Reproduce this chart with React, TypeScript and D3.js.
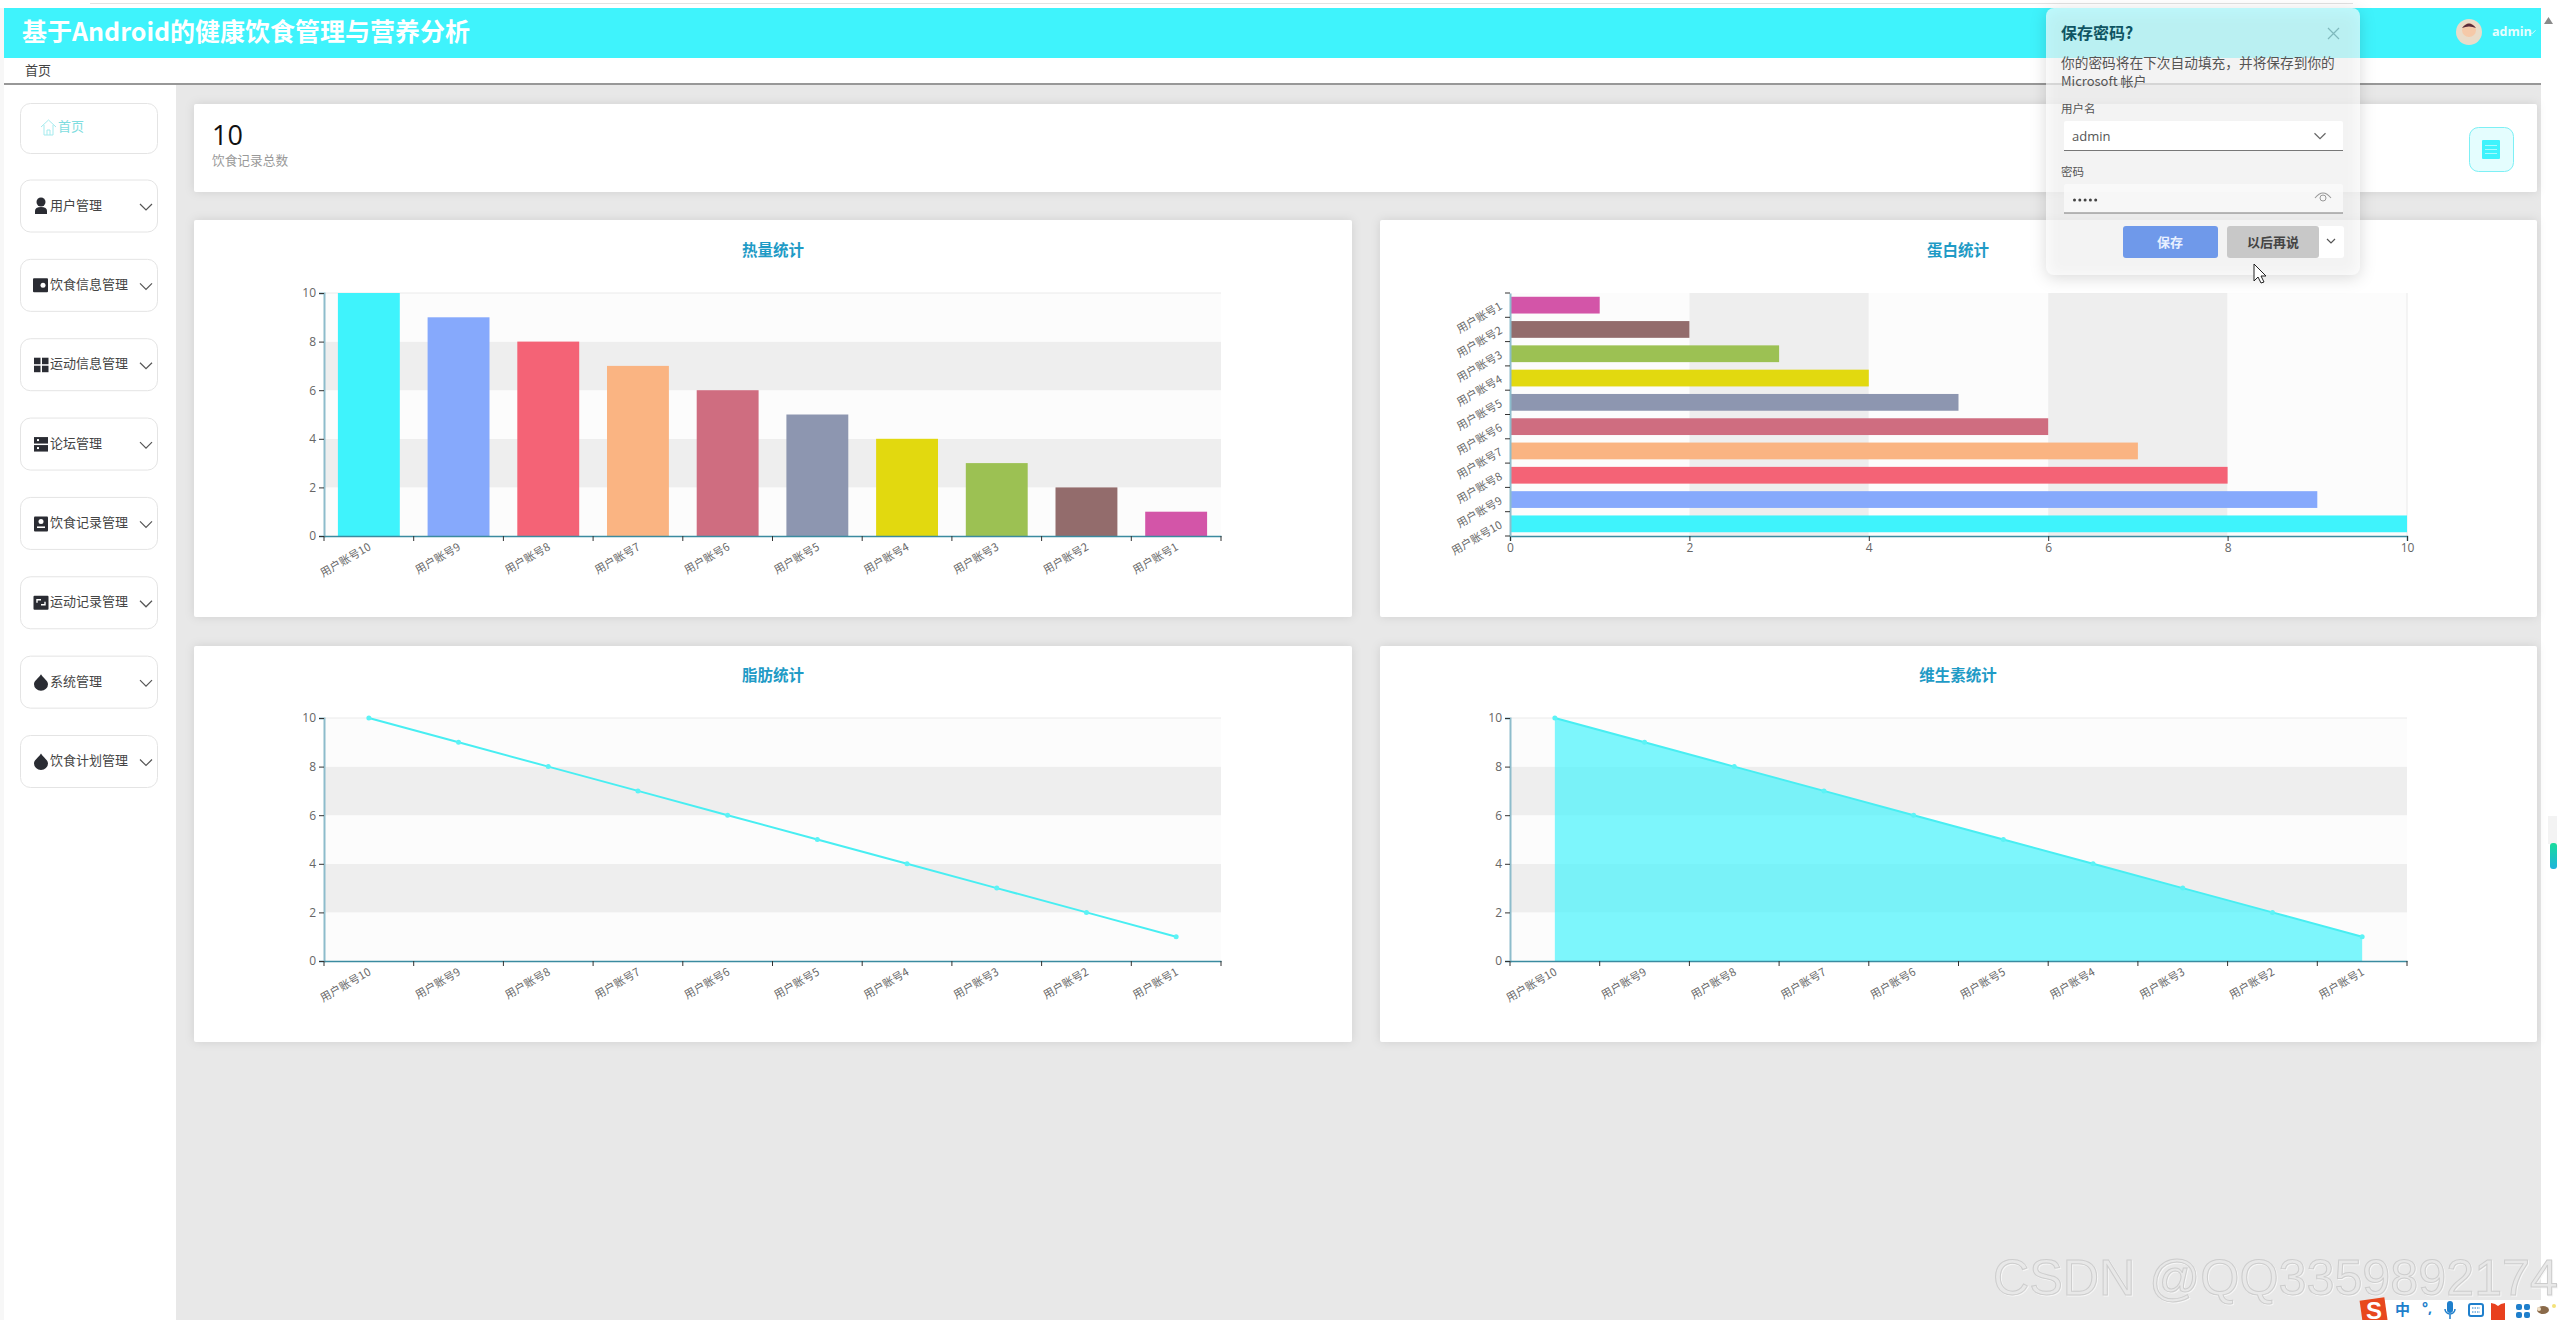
import React, { useRef, useEffect } from 'react';
import * as d3 from 'd3';

const categories = ['用户账号10', '用户账号9', '用户账号8', '用户账号7', '用户账号6', '用户账号5', '用户账号4', '用户账号3', '用户账号2', '用户账号1'];
const proteinCategories = ['用户账号1', '用户账号2', '用户账号3', '用户账号4', '用户账号5', '用户账号6', '用户账号7', '用户账号8', '用户账号9', '用户账号10'];
const heatValues = [10, 9, 8, 7, 6, 5, 4, 3, 2, 1];
const proteinValues = [1, 2, 3, 4, 5, 6, 7, 8, 9, 10];
const fatValues = [10, 9, 8, 7, 6, 5, 4, 3, 2, 1];
const vitaminValues = [10, 9, 8, 7, 6, 5, 4, 3, 2, 1];
const valueTicks = [0, 2, 4, 6, 8, 10];
const palette = ['#3ff3fc', '#86a9fc', '#f46376', '#fab482', '#cf6d80', '#8d96b0', '#e2d90f', '#9cc153', '#936c6c', '#d355a8'];
const menuItems = ['用户管理', '饮食信息管理', '运动信息管理', '论坛管理', '饮食记录管理', '运动记录管理', '系统管理', '饮食计划管理'];
const menuIcons = ['user', 'card', 'grid', 'server', 'disk', 'expand', 'drop', 'drop'];

const CYAN = '#3ff3fc';
const FONT = '"Noto Sans CJK SC", "Noto Sans", sans-serif';
const NUM_FONT = '"Open Sans", "Noto Sans CJK SC", sans-serif';

type Sel = d3.Selection<any, any, any, any>;

function label(g: Sel, x: number, y: number, text: string, size: number, color: string, opts: any = {}) {
  return g.append('text')
    .attr('x', x)
    .attr('y', y)
    .attr('dy', '0.35em')
    .attr('font-family', opts.family || FONT)
    .attr('font-size', size)
    .attr('font-weight', opts.weight || 'normal')
    .attr('text-anchor', opts.anchor || 'start')
    .attr('fill', color)
    .text(text);
}

function chevron(g: Sel, cx: number, cy: number, w: number, color: string, sw = 1.2) {
  g.append('path')
    .attr('d', `M${cx - w / 2},${cy - w / 4}L${cx},${cy + w / 4}L${cx + w / 2},${cy - w / 4}`)
    .attr('fill', 'none')
    .attr('stroke', color)
    .attr('stroke-width', sw);
}

function card(g: Sel, x: number, y: number, w: number, h: number) {
  g.append('rect')
    .attr('x', x).attr('y', y).attr('width', w).attr('height', h)
    .attr('rx', 2)
    .attr('fill', '#fff')
    .style('filter', 'drop-shadow(0 0 5px rgba(0,0,0,0.1))');
}

function menuIcon(g: Sel, kind: string, x: number, cy: number) {
  const c = '#2a2c33';
  if (kind === 'user') {
    g.append('circle').attr('cx', x + 7).attr('cy', cy - 4).attr('r', 4.5).attr('fill', c);
    g.append('path').attr('d', `M${x + 1},${cy + 8}v-3q0,-4 6,-4q6,0 6,4v3z`).attr('fill', c);
  } else if (kind === 'card') {
    g.append('rect').attr('x', x - 1).attr('y', cy - 7).attr('width', 15).attr('height', 14).attr('rx', 1).attr('fill', c);
    g.append('circle').attr('cx', x + 9).attr('cy', cy).attr('r', 2.5).attr('fill', '#fff');
  } else if (kind === 'grid') {
    [0, 8].forEach(dx => [0, 8].forEach(dy => {
      g.append('rect').attr('x', x + dx).attr('y', cy - 7 + dy).attr('width', 6.5).attr('height', 6.5).attr('fill', c);
    }));
  } else if (kind === 'server') {
    [0, 8].forEach(dy => {
      g.append('rect').attr('x', x).attr('y', cy - 7 + dy).attr('width', 14).attr('height', 6.5).attr('fill', c);
      g.append('rect').attr('x', x + 3).attr('y', cy - 5 + dy).attr('width', 2).attr('height', 2).attr('fill', '#fff');
    });
  } else if (kind === 'disk') {
    g.append('rect').attr('x', x).attr('y', cy - 7).attr('width', 14).attr('height', 15).attr('rx', 1).attr('fill', c);
    g.append('circle').attr('cx', x + 7).attr('cy', cy - 2).attr('r', 2.5).attr('fill', '#fff');
    g.append('rect').attr('x', x + 3).attr('y', cy + 3).attr('width', 8).attr('height', 1.6).attr('fill', '#fff');
  } else if (kind === 'expand') {
    g.append('rect').attr('x', x - 0.5).attr('y', cy - 7).attr('width', 15).attr('height', 14).attr('rx', 1).attr('fill', c);
    g.append('path').attr('d', `M${x + 3},${cy}v-3h4M${x + 11},${cy - 1}v3h-4`).attr('fill', 'none').attr('stroke', '#fff').attr('stroke-width', 1.4);
  } else {
    g.append('path').attr('d', `M${x + 7},${cy - 8}C${x + 10},${cy - 3} ${x + 14},${cy - 2} ${x + 14},${cy + 2}A7,6.5 0 0 1 ${x},${cy + 2}C${x},${cy - 2} ${x + 4},${cy - 3} ${x + 7},${cy - 8}Z`).attr('fill', c);
  }
}

function styleAxis(axis: Sel, color: string, width: number) {
  axis.select('.domain').attr('stroke', color).attr('stroke-width', width);
  axis.selectAll('.tick line').attr('stroke', '#333');
}

// value axis on the left with the split bands of the line and bar charts
function valueFrame(g: Sel, title: string, cx: number, titleY: number, left: number, right: number, top: number, bottom: number) {
  label(g, cx, titleY, title, 15.5, '#1f9bc6', { anchor: 'middle', weight: 'bold' });
  const y = d3.scaleLinear().domain([0, 10]).range([bottom, top]);
  const pairs = d3.pairs(valueTicks);
  g.selectAll(null).data(pairs).join('rect')
    .attr('x', left).attr('width', right - left)
    .attr('y', d => y(d[1])).attr('height', d => y(d[0]) - y(d[1]))
    .attr('fill', (_, i) => (i % 2 === 0 ? '#fcfcfc' : '#eeeeee'));
  g.append('line').attr('x1', left).attr('x2', right).attr('y1', top).attr('y2', top).attr('stroke', '#eaeaea');
  return y;
}

function drawAxes(g: Sel, band: d3.ScaleBand<string>, y: d3.ScaleLinear<number, number>, bottom: number, left: number) {
  const axisY = g.append('g').attr('transform', `translate(${left},0)`)
    .call(d3.axisLeft(y).tickValues(valueTicks).tickSize(5).tickPadding(3) as any);
  styleAxis(axisY, '#8dbccb', 2);
  axisY.selectAll('text').attr('font-family', NUM_FONT).attr('font-size', 12).attr('fill', '#666');

  const axisX = g.append('g').attr('transform', `translate(0,${bottom})`)
    .call(d3.axisBottom(band).tickSize(0).tickPadding(0) as any);
  axisX.select('.domain').attr('stroke', '#3b8ba0').attr('stroke-width', 1.5);
  axisX.selectAll('.tick text')
    .attr('font-family', FONT).attr('font-size', 11).attr('fill', '#666')
    .attr('text-anchor', 'end')
    .attr('transform', 'translate(1,10) rotate(-30)')
    .attr('dy', '0.7em').attr('y', -4);
  const edges = d3.range(band.domain().length + 1).map(i => band.range()[0] + i * band.step());
  axisX.selectAll('.edge').data(edges).join('line')
    .attr('x1', d => d).attr('x2', d => d).attr('y1', 0).attr('y2', 5).attr('stroke', '#333');
}

function drawBarChart(g: Sel) {
  const left = 324, right = 1221, top = 293, bottom = 536;
  const y = valueFrame(g, '热量统计', 773, 251, left, right, top, bottom);
  const x = d3.scaleBand<string>().domain(categories).range([left, right]).padding(0.155);
  x.paddingInner(0.31).paddingOuter(0.155);
  g.selectAll(null).data(heatValues).join('rect')
    .attr('x', (_, i) => x(categories[i])!)
    .attr('width', x.bandwidth())
    .attr('y', d => y(d))
    .attr('height', d => bottom - y(d))
    .attr('fill', (_, i) => palette[i]);
  const axisBand = d3.scaleBand<string>().domain(categories).range([left, right]);
  drawAxes(g, axisBand, y, bottom, left);
}

function drawHorizontalChart(g: Sel) {
  const left = 1510, right = 2407, top = 293, bottom = 536;
  label(g, 1958, 251, '蛋白统计', 15.5, '#1f9bc6', { anchor: 'middle', weight: 'bold' });
  const x = d3.scaleLinear().domain([0, 10]).range([left, right]);
  const y = d3.scaleBand<string>().domain(proteinCategories).range([top, bottom]);
  g.selectAll(null).data(d3.pairs(valueTicks)).join('rect')
    .attr('x', d => x(d[0])).attr('width', d => x(d[1]) - x(d[0]))
    .attr('y', top).attr('height', bottom - top)
    .attr('fill', (_, i) => (i % 2 === 0 ? '#fcfcfc' : '#eeeeee'));
  g.append('line').attr('x1', right).attr('x2', right).attr('y1', top).attr('y2', bottom).attr('stroke', '#eaeaea');

  const inner = y.bandwidth() * 0.69;
  g.selectAll(null).data(proteinValues).join('rect')
    .attr('x', left)
    .attr('y', (_, i) => y(proteinCategories[i])! + (y.bandwidth() - inner) / 2)
    .attr('width', d => x(d) - left)
    .attr('height', inner)
    .attr('fill', (_, i) => palette[9 - i]);

  const axisX = g.append('g').attr('transform', `translate(0,${bottom})`)
    .call(d3.axisBottom(x).tickValues(valueTicks).tickSize(5).tickPadding(2) as any);
  styleAxis(axisX, '#3b8ba0', 1.5);
  axisX.selectAll('text').attr('font-family', NUM_FONT).attr('font-size', 12).attr('fill', '#666');

  const axisY = g.append('g').attr('transform', `translate(${left},0)`)
    .call(d3.axisLeft(y).tickSize(0).tickPadding(0) as any);
  axisY.select('.domain').attr('stroke', '#8dbccb').attr('stroke-width', 2);
  axisY.selectAll('.tick text')
    .attr('font-family', FONT).attr('font-size', 11).attr('fill', '#666')
    .attr('text-anchor', 'end')
    .attr('x', 0).attr('dy', '0.35em')
    .attr('transform', 'translate(-9,0) rotate(-30)');
  const edges = d3.range(proteinCategories.length + 1).map(i => top + i * y.step());
  axisY.selectAll('.edge').data(edges).join('line')
    .attr('x1', -5).attr('x2', 0).attr('y1', d => d).attr('y2', d => d).attr('stroke', '#333');
}

function drawLineChart(g: Sel) {
  const left = 324, right = 1221, top = 718, bottom = 961;
  const y = valueFrame(g, '脂肪统计', 773, 676, left, right, top, bottom);
  const x = d3.scaleBand<string>().domain(categories).range([left, right]);
  const cx = (i: number) => x(categories[i])! + x.bandwidth() / 2;
  const line = d3.line<number>().x((_, i) => cx(i)).y(d => y(d));
  drawAxes(g, x, y, bottom, left);
  g.append('path').attr('d', line(fatValues)!).attr('fill', 'none').attr('stroke', '#48eef2').attr('stroke-width', 2);
  g.selectAll(null).data(fatValues).join('circle')
    .attr('cx', (_, i) => cx(i)).attr('cy', d => y(d)).attr('r', 2.5).attr('fill', '#5cf3f6');
}

function drawAreaChart(g: Sel) {
  const left = 1510, right = 2407, top = 718, bottom = 961;
  const y = valueFrame(g, '维生素统计', 1958, 676, left, right, top, bottom);
  const x = d3.scaleBand<string>().domain(categories).range([left, right]);
  const cx = (i: number) => x(categories[i])! + x.bandwidth() / 2;
  const area = d3.area<number>().x((_, i) => cx(i)).y0(bottom).y1(d => y(d));
  const line = d3.line<number>().x((_, i) => cx(i)).y(d => y(d));
  g.append('path').attr('d', area(vitaminValues)!).attr('fill', CYAN).attr('fill-opacity', 0.67);
  g.append('path').attr('d', line(vitaminValues)!).attr('fill', 'none').attr('stroke', '#48eef2').attr('stroke-width', 2);
  g.selectAll(null).data(vitaminValues).join('circle')
    .attr('cx', (_, i) => cx(i)).attr('cy', d => y(d)).attr('r', 2.5).attr('fill', '#5cf3f6');
  drawAxes(g, x, y, bottom, left);
}

function drawPage(g: Sel) {
  g.append('rect').attr('width', 2560).attr('height', 1320).attr('fill', '#fff');
  g.append('line').attr('x1', 90).attr('x2', 2353).attr('y1', 3.5).attr('y2', 3.5).attr('stroke', '#e2e2e2');
  g.append('rect').attr('x', 0).attr('y', 8).attr('width', 4).attr('height', 1312).attr('fill', '#f7f7f7');
  g.append('rect').attr('x', 176).attr('y', 85).attr('width', 2365).attr('height', 1235).attr('fill', '#e8e8e8');

  // header
  g.append('rect').attr('x', 4).attr('y', 8).attr('width', 2537).attr('height', 50).attr('fill', CYAN);
  label(g, 22, 32, '基于Android的健康饮食管理与营养分析', 25, '#fff', { weight: 'bold' });
  label(g, 25, 70, '首页', 13, '#444');
  g.append('line').attr('x1', 4).attr('x2', 2541).attr('y1', 84).attr('y2', 84).attr('stroke', '#333').attr('stroke-width', 1.2);

  // avatar and user
  g.append('circle').attr('cx', 2469).attr('cy', 32).attr('r', 13).attr('fill', '#e9dcc9');
  g.append('circle').attr('cx', 2469).attr('cy', 30).attr('r', 7).attr('fill', '#f5c9a8');
  g.append('path').attr('d', 'M2462,28q7,-9 14,0q-7,-3 -14,0z').attr('fill', '#5a2b3a');
  label(g, 2492, 32, 'admin', 12.5, '#e6feff', { weight: 'bold', family: NUM_FONT });
  chevron(g, 2532, 32, 7, '#d8fdff', 1);
  g.append('path').attr('d', 'M2544,24l4.5,-7l4.5,7z').attr('fill', '#8a8a8a');

  // scrollbar
  const grad = g.append('linearGradient').attr('id', 'thumb').attr('x1', 0).attr('x2', 0).attr('y1', 0).attr('y2', 1);
  grad.append('stop').attr('offset', 0).attr('stop-color', '#19dc9c');
  grad.append('stop').attr('offset', 1).attr('stop-color', '#1fb3dc');
  g.append('rect').attr('x', 2548).attr('y', 816).attr('width', 9).attr('height', 28).attr('fill', '#f3f3f3');
  g.append('rect').attr('x', 2550).attr('y', 843).attr('width', 7).attr('height', 26).attr('rx', 3).attr('fill', 'url(#thumb)');

  // sidebar
  const home = g.append('g');
  home.append('rect').attr('x', 20.5).attr('y', 103.5).attr('width', 137).attr('height', 50).attr('rx', 10).attr('fill', '#fff').attr('stroke', '#e4e4e4');
  home.append('path').attr('d', 'M41,127l7.5,-7l7.5,7M44,125v10h9v-10M47,135v-5h3v5').attr('fill', 'none').attr('stroke', '#a5ebee');
  label(home, 58, 126, '首页', 13, '#7fdde0');
  const menuY = d3.scaleLinear().domain([0, 7]).range([206, 761.5]);
  menuItems.forEach((name, i) => {
    const cy = menuY(i);
    const m = g.append('g');
    m.append('rect').attr('x', 20.5).attr('y', cy - 26).attr('width', 137).attr('height', 52).attr('rx', 10).attr('fill', '#fff').attr('stroke', '#e4e4e4');
    menuIcon(m, menuIcons[i], 34, cy);
    label(m, 50, cy - 1, name, 13, '#444');
    chevron(m, 146, cy + 1, 12, '#555');
  });

  // stat card
  card(g, 194, 104, 2343, 88);
  label(g, 212, 136, '10', 27, '#111', { family: NUM_FONT });
  label(g, 212, 161, '饮食记录总数', 12.7, '#999');
  g.append('rect').attr('x', 2469.5).attr('y', 127.5).attr('width', 44).attr('height', 44).attr('rx', 9).attr('fill', '#e4fdfe').attr('stroke', '#7df0f5');
  g.append('rect').attr('x', 2482).attr('y', 140).attr('width', 18).attr('height', 19).attr('rx', 1).attr('fill', CYAN);
  [145, 149, 153].forEach(ly => {
    g.append('rect').attr('x', 2485).attr('y', ly).attr('width', 12).attr('height', 1).attr('fill', '#a8fafd');
  });

  card(g, 194, 220, 1158, 397);
  card(g, 1380, 220, 1157, 397);
  card(g, 194, 646, 1158, 396);
  card(g, 1380, 646, 1157, 396);
}

function drawWatermark(g: Sel) {
  const base = { x: 1993, y: 1295 };
  const text = 'CSDN @QQ3359892174';
  const add = (dx: number, dy: number, fill: string, stroke: string) => g.append('text')
    .attr('x', base.x + dx).attr('y', base.y + dy)
    .attr('font-family', '"Liberation Sans", Arial, sans-serif')
    .attr('font-size', 50)
    .attr('textLength', 565)
    .attr('lengthAdjust', 'spacingAndGlyphs')
    .attr('fill', fill).attr('stroke', stroke).attr('stroke-width', 1)
    .text(text);
  add(1, 1, 'none', '#f7f7f7');
  add(0, 0, '#e8e8e8', '#cdcdcd');
}

function drawImeBar(g: Sel) {
  g.append('rect').attr('x', 2385).attr('y', 1300).attr('width', 175).attr('height', 20).attr('fill', '#fff');
  g.append('rect').attr('x', 2361).attr('y', 1299).attr('width', 25).attr('height', 24).attr('transform', 'rotate(-8 2373 1310)').attr('fill', '#e8481e');
  label(g, 2366, 1311, 'S', 24, '#fff', { weight: 'bold', family: '"Liberation Sans", sans-serif' });
  const blue = '#1f7fcc';
  label(g, 2395, 1310, '中', 15, blue, { weight: 'bold' });
  label(g, 2422, 1308, '°,', 14, blue, { weight: 'bold', family: NUM_FONT });
  g.append('rect').attr('x', 2447).attr('y', 1301).attr('width', 6).attr('height', 12).attr('rx', 3).attr('fill', blue);
  g.append('path').attr('d', 'M2445,1309a5,5 0 0 0 10,0M2450,1314v5').attr('fill', 'none').attr('stroke', blue).attr('stroke-width', 1.5);
  g.append('rect').attr('x', 2469).attr('y', 1304).attr('width', 14).attr('height', 12).attr('rx', 2).attr('fill', '#fff').attr('stroke', blue).attr('stroke-width', 2);
  g.append('path').attr('d', 'M2472,1308h8M2472,1312h8').attr('stroke', blue).attr('stroke-dasharray', '1.5 1');
  g.append('path').attr('d', 'M2491,1303l4,1l3,2l3,-2l4,-1v17h-14z').attr('fill', '#e8401e');
  [2516, 2524].forEach(ax => [1304, 1312].forEach(ay => {
    g.append('rect').attr('x', ax).attr('y', ay).attr('width', 6).attr('height', 6).attr('rx', 2).attr('fill', blue);
  }));
  g.append('ellipse').attr('cx', 2543).attr('cy', 1310).attr('rx', 6).attr('ry', 4).attr('fill', '#8a6a4a');
  g.append('circle').attr('cx', 2539).attr('cy', 1309).attr('r', 2).attr('fill', '#f0e0c8');
  g.append('circle').attr('cx', 2554).attr('cy', 1306).attr('r', 2).attr('fill', '#f4e27a');
}

function drawDialog(g: Sel) {
  g.append('rect').attr('x', 2046).attr('y', 8).attr('width', 314).attr('height', 267).attr('rx', 8)
    .attr('fill', '#fff').attr('fill-opacity', 0.66)
    .style('filter', 'drop-shadow(0 3px 8px rgba(0,0,0,0.22))');
  const textColor = '#555';
  label(g, 2061, 33, '保存密码?', 16, '#0f5563', { weight: 'bold' });
  g.append('path').attr('d', 'M2328,28l11,11M2339,28l-11,11').attr('stroke', '#7fb9bd').attr('stroke-width', 1.2);
  label(g, 2061, 63, '你的密码将在下次自动填充，并将保存到你的', 13.7, textColor);
  label(g, 2061, 81, 'Microsoft 帐户', 13, textColor);
  label(g, 2061, 109, '用户名', 11.5, textColor);
  g.append('rect').attr('x', 2064).attr('y', 121).attr('width', 279).attr('height', 30).attr('rx', 2).attr('fill', '#fff');
  g.append('line').attr('x1', 2064).attr('x2', 2343).attr('y1', 150.5).attr('y2', 150.5).attr('stroke', '#777');
  label(g, 2072, 136, 'admin', 13, '#555', { family: NUM_FONT });
  chevron(g, 2320, 136, 11, '#666');
  label(g, 2061, 172, '密码', 11.5, textColor);
  g.append('rect').attr('x', 2064).attr('y', 184).attr('width', 279).attr('height', 29).attr('rx', 2).attr('fill', '#fafafa').attr('fill-opacity', 0.8);
  g.append('line').attr('x1', 2064).attr('x2', 2343).attr('y1', 213).attr('y2', 213).attr('stroke', '#777');
  d3.range(5).forEach(i => {
    g.append('circle').attr('cx', 2074.5 + i * 5.3).attr('cy', 200).attr('r', 1.5).attr('fill', '#444');
  });
  g.append('path').attr('d', 'M2315,198q8,-10 16,0').attr('fill', 'none').attr('stroke', '#999').attr('stroke-width', 1.1);
  g.append('circle').attr('cx', 2323).attr('cy', 198).attr('r', 3).attr('fill', 'none').attr('stroke', '#999');
  g.append('rect').attr('x', 2123).attr('y', 226).attr('width', 95).attr('height', 32).attr('rx', 3).attr('fill', '#6f99ea');
  label(g, 2170, 242, '保存', 13, '#e8f0ff', { anchor: 'middle', weight: 'bold' });
  g.append('rect').attr('x', 2227).attr('y', 226).attr('width', 117).attr('height', 32).attr('rx', 3).attr('fill', '#fff');
  g.append('rect').attr('x', 2227).attr('y', 226).attr('width', 92).attr('height', 32).attr('rx', 3).attr('fill', '#c8c8c8');
  label(g, 2273, 242, '以后再说', 13, '#444', { anchor: 'middle', weight: 'bold' });
  chevron(g, 2331, 241, 8, '#555');
  g.append('path').attr('d', 'M2254,264v17l4,-4l3,6l3,-1l-3,-6l5,0z').attr('fill', '#fff').attr('stroke', '#222').attr('stroke-width', 1);
}

export default function App() {
  const ref = useRef<SVGSVGElement | null>(null);

  useEffect(() => {
    if (ref.current) {
      document.body.style.margin = '0';
      document.body.style.overflow = 'hidden';
      const svg = d3.select(ref.current);
      svg.selectAll('*').remove();
      drawPage(svg);
      drawBarChart(svg.append('g'));
      drawHorizontalChart(svg.append('g'));
      drawLineChart(svg.append('g'));
      drawAreaChart(svg.append('g'));
      drawWatermark(svg.append('g'));
      drawDialog(svg.append('g'));
      drawImeBar(svg.append('g'));
    }
  }, []);

  return <svg ref={ref} width={2560} height={1320} style={{ display: 'block' }} />;
}
